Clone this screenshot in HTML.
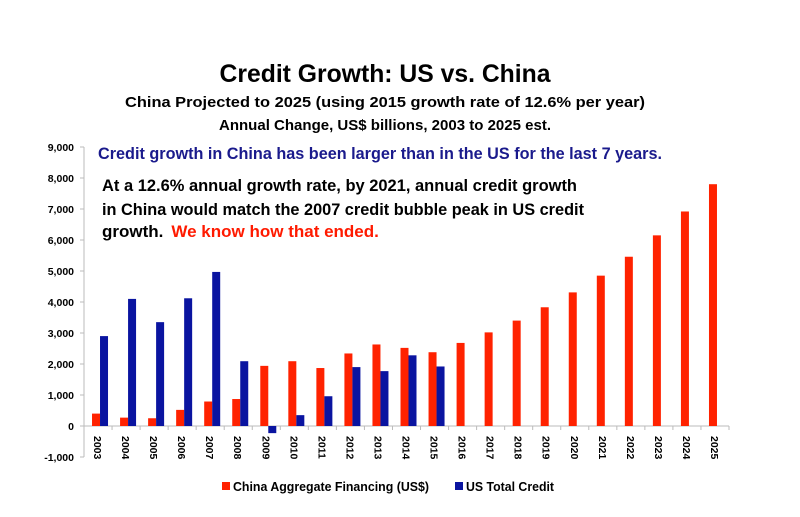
<!DOCTYPE html>
<html><head><meta charset="utf-8"><style>
body{margin:0;background:#fff;}
svg{display:block;font-family:"Liberation Sans",sans-serif;font-weight:bold;}
</style></head><body>
<svg id="chart" width="800" height="517" viewBox="0 0 800 517">
<text x="385" y="82" text-anchor="middle" font-size="25" textLength="331" lengthAdjust="spacingAndGlyphs" fill="#000">Credit Growth: US vs. China</text>
<text x="385" y="107" text-anchor="middle" font-size="15" textLength="520" lengthAdjust="spacingAndGlyphs" fill="#000">China Projected to 2025 (using 2015 growth rate of 12.6% per year)</text>
<text x="385" y="130" text-anchor="middle" font-size="15" textLength="332" lengthAdjust="spacingAndGlyphs" fill="#000">Annual Change, US$ billions, 2003 to 2025 est.</text>
<text x="98" y="159" font-size="17" textLength="564" lengthAdjust="spacingAndGlyphs" fill="#1a1a8c">Credit growth in China has been larger than in the US for the last 7 years.</text>
<text x="102" y="191" font-size="17" textLength="475" lengthAdjust="spacingAndGlyphs" fill="#000">At a 12.6% annual growth rate, by 2021, annual credit growth</text>
<text x="102" y="215" font-size="17" textLength="482" lengthAdjust="spacingAndGlyphs" fill="#000">in China would match the 2007 credit bubble peak in US credit</text>
<text x="102" y="237" font-size="17" fill="#000"><tspan>growth.</tspan><tspan dx="8" fill="#ff1a00">We know how that ended.</tspan></text>
<g id="plot"></g>
<rect x="222" y="482" width="8" height="8" fill="#ff2200"/>
<text x="233" y="491" font-size="12.5" textLength="196" lengthAdjust="spacingAndGlyphs">China Aggregate Financing (US$)</text>
<rect x="455" y="482" width="8" height="8" fill="#0a14a0"/>
<text x="466" y="491" font-size="12.5" textLength="88" lengthAdjust="spacingAndGlyphs">US Total Credit</text>
</svg>
<script>
const years=["2003","2004","2005","2006","2007","2008","2009","2010","2011","2012","2013","2014","2015","2016","2017","2018","2019","2020","2021","2022","2023","2024","2025"];
const chinaValues=[400,270,250,520,790,870,1940,2090,1870,2340,2630,2520,2380,2680,3020,3400,3830,4310,4850,5460,6150,6920,7800];
const usValues=[2900,4100,3350,4120,4970,2090,-230,350,960,1900,1770,2280,1920];
const yTicks=[-1000,0,1000,2000,3000,4000,5000,6000,7000,8000,9000];
const NS="http://www.w3.org/2000/svg";
const g=document.getElementById('plot');
const x0=84,x1=729,step=(x1-x0)/years.length;
function y(v){return 426-v*0.031;}
function xc(i){return x0+step*(i+0.5);}
function mk(t,a){const e=document.createElementNS(NS,t);for(const k in a)e.setAttribute(k,a[k]);g.appendChild(e);return e;}
let ax=mk('line',{x1:x0,x2:x0,y1:y(9000),y2:y(-1000),stroke:'#bbb','stroke-width':1});


let zl=mk('line',{x1:x0,x2:x1,y1:y(0),y2:y(0),stroke:'#bbb','stroke-width':1});


yTicks.forEach(v=>{
  const t=mk('text',{x:74,y:y(v)+4,'text-anchor':'end','font-size':10.5,fill:'#000'});
  t.textContent=v.toLocaleString('en-US');
  
  
  const tk=mk('line',{x1:x0-4,x2:x0,y1:y(v),y2:y(v),stroke:'#bbb'});
  
  
});
years.forEach((yr,i)=>{
  const c=xc(i);
  const tk=mk('line',{x1:x0+step*(i+1),x2:x0+step*(i+1),y1:y(0),y2:y(0)+4,stroke:'#bbb'});
  
  
  const t=mk('text',{x:0,y:0,'font-size':10.5,fill:'#000',transform:`translate(${c-4},436) rotate(90)`});
  t.textContent=yr;
  
  
  const v=chinaValues[i];
  const r=mk('rect',{x:c-6,y:Math.min(y(v),y(0)),width:8,height:Math.abs(y(v)-y(0)),fill:'#ff2200'});
  
  
  if(i<usValues.length){
    const u=usValues[i];
    const b=mk('rect',{x:c+2,y:Math.min(y(u),y(0)),width:8,height:Math.abs(y(u)-y(0)),fill:'#0a14a0'});
    
    
  }
});
</script>
</body></html>
